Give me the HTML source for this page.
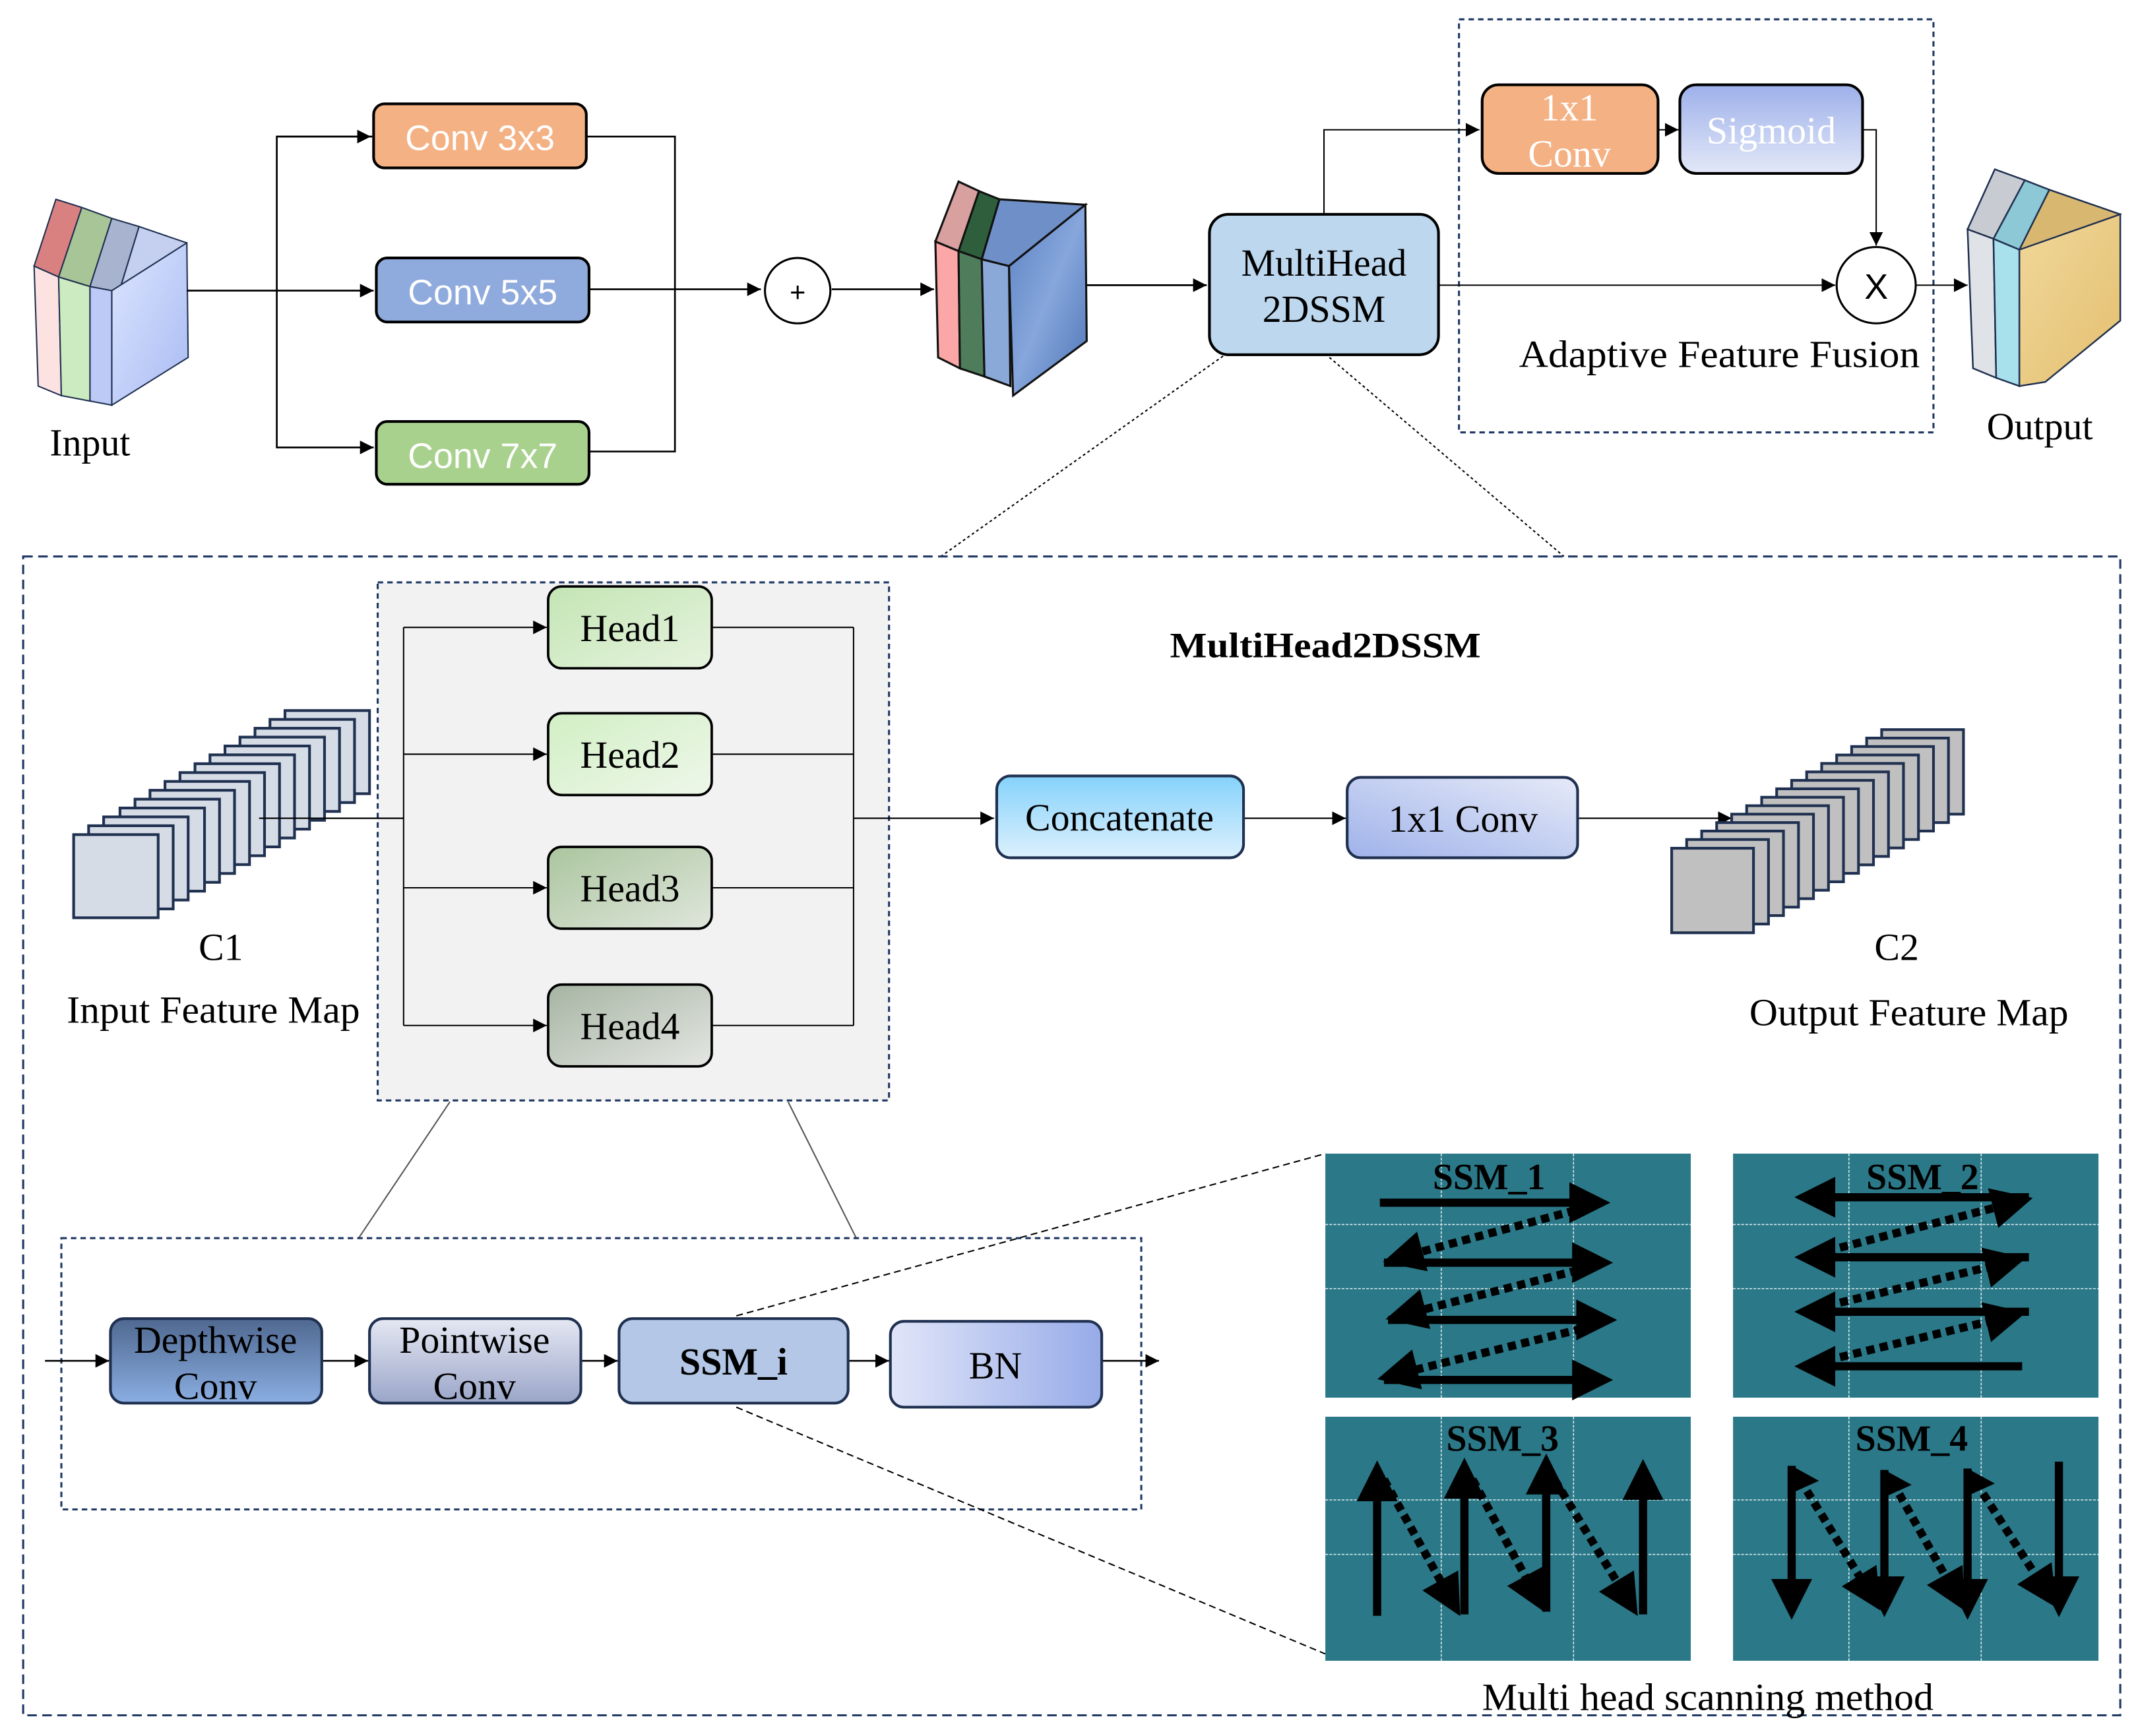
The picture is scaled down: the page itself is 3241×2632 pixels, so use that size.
<!DOCTYPE html>
<html><head><meta charset="utf-8"><style>
html,body{margin:0;padding:0;background:#fff}
svg{display:block}
text{font-family:"Liberation Serif",serif}
.s{font-family:"Liberation Sans",sans-serif}
</style></head><body>
<svg width="3241" height="2632" viewBox="0 0 1568 1273" xmlns="http://www.w3.org/2000/svg">
<defs>
<marker id="a" viewBox="0 0 10 10" refX="10" refY="5" markerWidth="10" markerHeight="10" markerUnits="userSpaceOnUse" orient="auto"><path d="M0,0L10,5L0,10z" fill="#000"/></marker>
<marker id="b" viewBox="0 0 10 10" refX="8" refY="5" markerWidth="5" markerHeight="5" orient="auto"><path d="M0,0L10,5L0,10z" fill="#000"/></marker>
<linearGradient id="gSig" x1="0" y1="0" x2="0" y2="1"><stop offset="0" stop-color="#9db0ea"/><stop offset="1" stop-color="#e3e8f8"/></linearGradient>
<linearGradient id="gCat" x1="0" y1="0" x2="0" y2="1"><stop offset="0" stop-color="#85d2fb"/><stop offset="1" stop-color="#dcf0fd"/></linearGradient>
<linearGradient id="g11" x1="0" y1="1" x2="1" y2="0"><stop offset="0" stop-color="#9fb2ea"/><stop offset="1" stop-color="#e6eaf8"/></linearGradient>
<linearGradient id="gDw" x1="0" y1="0" x2="0" y2="1"><stop offset="0" stop-color="#4f6890"/><stop offset="1" stop-color="#8aaee2"/></linearGradient>
<linearGradient id="gPw" x1="0" y1="0" x2="0" y2="1"><stop offset="0" stop-color="#e5e8f3"/><stop offset="1" stop-color="#9aa5c8"/></linearGradient>
<linearGradient id="gBn" x1="0" y1="0" x2="1" y2="0"><stop offset="0" stop-color="#e0e5f8"/><stop offset="1" stop-color="#97abe8"/></linearGradient>
<linearGradient id="gH1" x1="0" y1="0" x2="1" y2="1"><stop offset="0" stop-color="#c3e5b4"/><stop offset="1" stop-color="#e6f3de"/></linearGradient>
<linearGradient id="gH2" x1="0" y1="0" x2="1" y2="1"><stop offset="0" stop-color="#d2efc4"/><stop offset="1" stop-color="#eef7ea"/></linearGradient>
<linearGradient id="gH3" x1="0" y1="0" x2="1" y2="1"><stop offset="0" stop-color="#abc59e"/><stop offset="1" stop-color="#dfe6dc"/></linearGradient>
<linearGradient id="gH4" x1="0" y1="0" x2="1" y2="1"><stop offset="0" stop-color="#a6b4a2"/><stop offset="1" stop-color="#e4e6e3"/></linearGradient>
<linearGradient id="gBlue" x1="0" y1="0" x2="1" y2="1"><stop offset="0" stop-color="#dde5ff"/><stop offset="1" stop-color="#a8bbf2"/></linearGradient>
<linearGradient id="gTex" x1="0" y1="0" x2="1" y2="1"><stop offset="0" stop-color="#5b82c2"/><stop offset="0.5" stop-color="#86a6dc"/><stop offset="1" stop-color="#4e74b6"/></linearGradient>
<linearGradient id="gGold" x1="0" y1="0" x2="1" y2="1"><stop offset="0" stop-color="#f0d79a"/><stop offset="1" stop-color="#e4c070"/></linearGradient>
</defs>

<!-- INPUT cube -->
<g stroke="#1f3050" stroke-width="1">
<polygon points="41,146 60,152 43,203 25,195" fill="#d98080"/>
<polygon points="60,152 82,160 66,210 43,203" fill="#a7c596"/>
<polygon points="82,160 102,166 87,215 66,210" fill="#a8b3cf"/>
<polygon points="102,166 137,178 137,262 87,215" fill="#c5d0f0"/>
<polygon points="25,195 43,203 45,290 28,283" fill="#fde2e2"/>
<polygon points="43,203 66,210 66,294 45,290" fill="#cdebc0"/>
<polygon points="66,210 82,213 82,297 66,294" fill="#bccaf5"/>
<polygon points="82,213 137,178 138,262 82,297" fill="url(#gBlue)"/>
</g>
<text x="66" y="334" font-size="28" text-anchor="middle">Input</text>

<!-- branches -->
<g stroke="#000" stroke-width="1.3" fill="none">
<line x1="137" y1="213" x2="274" y2="213" marker-end="url(#a)"/>
<polyline points="273,100 203,100 203,328 274,328"/>
<line x1="203" y1="100" x2="272" y2="100" marker-end="url(#a)"/>
<line x1="203" y1="328" x2="274" y2="328" marker-end="url(#a)"/>
<polyline points="430,100 495,100 495,331 432,331"/>
<line x1="432" y1="212" x2="558" y2="212" marker-end="url(#a)"/>
<line x1="610" y1="212" x2="685" y2="212" marker-end="url(#a)"/>
<line x1="797" y1="209" x2="885" y2="209" marker-end="url(#a)"/>
</g>
<rect x="274" y="76" width="156" height="47" rx="8" fill="#f4b183" stroke="#000" stroke-width="2"/>
<text class="s" x="352" y="110" font-size="26" fill="#fff" text-anchor="middle">Conv 3x3</text>
<rect x="276" y="189" width="156" height="47" rx="8" fill="#8faadc" stroke="#000" stroke-width="2"/>
<text class="s" x="354" y="223" font-size="26" fill="#fff" text-anchor="middle">Conv 5x5</text>
<rect x="276" y="309" width="156" height="46" rx="8" fill="#a9d18e" stroke="#000" stroke-width="2"/>
<text class="s" x="354" y="343" font-size="26" fill="#fff" text-anchor="middle">Conv 7x7</text>
<ellipse cx="585" cy="213" rx="24" ry="24" fill="#fff" stroke="#000" stroke-width="1.5"/>
<text class="s" x="585" y="221" font-size="20" text-anchor="middle">+</text>

<!-- feature cube -->
<g stroke="#111" stroke-width="1.5">
<polygon points="686,177 703,133 718,140 703,184" fill="#d9a0a0"/>
<polygon points="703,184 718,140 733,146 720,190" fill="#2e5e3c"/>
<polygon points="720,190 733,146 796,150 740,195" fill="#6f8fc8"/>
<polygon points="686,177 703,184 704,270 688,262" fill="#fba7a7"/>
<polygon points="703,184 720,190 722,276 704,270" fill="#4f7d5c"/>
<polygon points="720,190 740,195 741,283 722,276" fill="#8aa8d8"/>
<polygon points="740,195 796,150 797,250 743,290" fill="url(#gTex)"/>
</g>

<!-- MultiHead -->
<rect x="887" y="157" width="168" height="103" rx="14" fill="#bdd7ee" stroke="#000" stroke-width="2"/>
<text x="971" y="202" font-size="28" text-anchor="middle">MultiHead</text>
<text x="971" y="236" font-size="28" text-anchor="middle">2DSSM</text>
<rect x="1070" y="14" width="348" height="303" fill="none" stroke="#1f3864" stroke-width="1.5" stroke-dasharray="4,3"/>
<g stroke="#000" stroke-width="1" fill="none">
<polyline points="971,157 971,95 1085,95" marker-end="url(#a)"/>
<line x1="1216" y1="95" x2="1231" y2="95" marker-end="url(#a)"/>
<polyline points="1366,95 1376,95 1376,180" marker-end="url(#a)"/>
<line x1="1055" y1="209" x2="1346" y2="209" marker-end="url(#a)"/>
<line x1="1405" y1="209" x2="1443" y2="209" marker-end="url(#a)"/>
</g>
<rect x="1087" y="62" width="129" height="65" rx="12" fill="#f4b183" stroke="#000" stroke-width="2"/>
<text x="1151" y="88" font-size="28" fill="#fff" text-anchor="middle">1x1</text>
<text x="1151" y="122" font-size="28" fill="#fff" text-anchor="middle">Conv</text>
<rect x="1232" y="62" width="134" height="65" rx="12" fill="url(#gSig)" stroke="#000" stroke-width="2"/>
<text x="1299" y="105" font-size="28" fill="#fff" text-anchor="middle">Sigmoid</text>
<ellipse cx="1376" cy="209" rx="29" ry="28" fill="#fff" stroke="#000" stroke-width="1.5"/>
<text class="s" x="1376" y="219" font-size="26" text-anchor="middle">X</text>
<text x="1114" y="269" font-size="28" textLength="294" lengthAdjust="spacingAndGlyphs">Adaptive Feature Fusion</text>

<!-- output cube -->
<g stroke="#1f3050" stroke-width="1.2">
<polygon points="1443,168 1463,124 1485,132 1462,175" fill="#c8ccd2"/>
<polygon points="1462,175 1485,132 1503,139 1481,183" fill="#8cc8d6"/>
<polygon points="1481,183 1503,139 1555,157 1500,198" fill="#d8b870"/>
<polygon points="1443,168 1462,175 1464,277 1447,270" fill="#dfe2e6"/>
<polygon points="1462,175 1481,183 1481,283 1464,277" fill="#a8e0ec"/>
<polygon points="1481,183 1555,157 1555,235 1500,280 1481,283" fill="url(#gGold)"/>
</g>
<text x="1496" y="322" font-size="28" text-anchor="middle">Output</text>

<!-- zoom lines -->
<line x1="897" y1="261" x2="690" y2="408" stroke="#000" stroke-width="1" stroke-dasharray="2,2"/>
<line x1="975" y1="262" x2="1147" y2="408" stroke="#000" stroke-width="1" stroke-dasharray="2,2"/>

<!-- big dashed box -->
<rect x="17" y="408" width="1538" height="850" fill="none" stroke="#1f3864" stroke-width="1.5" stroke-dasharray="7,4"/>
<text x="858" y="482" font-size="26" font-weight="bold" textLength="228" lengthAdjust="spacingAndGlyphs">MultiHead2DSSM</text>

<!-- inner gray box -->
<rect x="277" y="427" width="375" height="380" fill="#f2f2f2" stroke="#1f3864" stroke-width="1.5" stroke-dasharray="4,3"/>
<g stroke="#000" stroke-width="1" fill="none">
<line x1="190" y1="600" x2="296" y2="600"/>
<line x1="296" y1="460" x2="296" y2="752"/>
<line x1="296" y1="460" x2="401" y2="460" marker-end="url(#a)"/>
<line x1="296" y1="553" x2="401" y2="553" marker-end="url(#a)"/>
<line x1="296" y1="651" x2="401" y2="651" marker-end="url(#a)"/>
<line x1="296" y1="752" x2="401" y2="752" marker-end="url(#a)"/>
<line x1="626" y1="460" x2="626" y2="752"/>
<line x1="522" y1="460" x2="626" y2="460"/>
<line x1="522" y1="553" x2="626" y2="553"/>
<line x1="522" y1="651" x2="626" y2="651"/>
<line x1="522" y1="752" x2="626" y2="752"/>
<line x1="626" y1="600" x2="729" y2="600" marker-end="url(#a)"/>
<line x1="912" y1="600" x2="987" y2="600" marker-end="url(#a)"/>
<line x1="1157" y1="600" x2="1270" y2="600" marker-end="url(#a)"/>
</g>
<rect x="402" y="430" width="120" height="60" rx="10" fill="url(#gH1)" stroke="#000" stroke-width="1.8"/>
<text x="462" y="470" font-size="28" text-anchor="middle">Head1</text>
<rect x="402" y="523" width="120" height="60" rx="10" fill="url(#gH2)" stroke="#000" stroke-width="1.8"/>
<text x="462" y="563" font-size="28" text-anchor="middle">Head2</text>
<rect x="402" y="621" width="120" height="60" rx="10" fill="url(#gH3)" stroke="#000" stroke-width="1.8"/>
<text x="462" y="661" font-size="28" text-anchor="middle">Head3</text>
<rect x="402" y="722" width="120" height="60" rx="10" fill="url(#gH4)" stroke="#000" stroke-width="1.8"/>
<text x="462" y="762" font-size="28" text-anchor="middle">Head4</text>

<!-- C1 stack -->
<g fill="#d6dce6" stroke="#1f3050" stroke-width="2">
<rect x="209" y="521" width="62" height="61"/><rect x="198" y="527.5" width="62" height="61"/><rect x="187" y="534" width="62" height="61"/><rect x="176" y="540.5" width="62" height="61"/><rect x="165" y="547" width="62" height="61"/><rect x="154" y="553.5" width="62" height="61"/><rect x="143" y="560" width="62" height="61"/><rect x="132" y="566.5" width="62" height="61"/><rect x="121" y="573" width="62" height="61"/><rect x="110" y="579.5" width="62" height="61"/><rect x="99" y="586" width="62" height="61"/><rect x="88" y="592.5" width="62" height="61"/><rect x="76" y="599" width="62" height="61"/><rect x="65" y="605.5" width="62" height="61"/><rect x="54" y="612" width="62" height="61"/>
</g>
<line x1="190" y1="600" x2="296" y2="600" stroke="#000" stroke-width="1"/>
<text x="162" y="704" font-size="28" text-anchor="middle">C1</text>
<text x="49" y="750" font-size="28" textLength="215" lengthAdjust="spacingAndGlyphs">Input Feature Map</text>

<rect x="731" y="569" width="181" height="60" rx="10" fill="url(#gCat)" stroke="#1f3050" stroke-width="2"/>
<text x="821" y="609" font-size="28" text-anchor="middle">Concatenate</text>
<rect x="988" y="570" width="169" height="59" rx="10" fill="url(#g11)" stroke="#1f3050" stroke-width="2"/>
<text x="1073" y="610" font-size="28" text-anchor="middle">1x1 Conv</text>

<!-- C2 stack -->
<g fill="#c0c0c0" stroke="#1f3050" stroke-width="2">
<rect x="1380" y="535" width="60" height="62"/><rect x="1369" y="541.2" width="60" height="62"/><rect x="1358" y="547.4" width="60" height="62"/><rect x="1347" y="553.6" width="60" height="62"/><rect x="1336" y="559.8" width="60" height="62"/><rect x="1325" y="566" width="60" height="62"/><rect x="1314" y="572.2" width="60" height="62"/><rect x="1303" y="578.4" width="60" height="62"/><rect x="1292" y="584.6" width="60" height="62"/><rect x="1281" y="590.8" width="60" height="62"/><rect x="1270" y="597" width="60" height="62"/><rect x="1259" y="603.2" width="60" height="62"/><rect x="1248" y="609.4" width="60" height="62"/><rect x="1237" y="615.6" width="60" height="62"/><rect x="1226" y="622" width="60" height="62"/>
</g>
<text x="1391" y="704" font-size="28" text-anchor="middle">C2</text>
<text x="1283" y="752" font-size="28" textLength="234" lengthAdjust="spacingAndGlyphs">Output Feature Map</text>

<!-- lines from gray box -->
<line x1="330" y1="808" x2="263" y2="908" stroke="#555" stroke-width="1"/>
<line x1="578" y1="808" x2="628" y2="908" stroke="#555" stroke-width="1"/>

<!-- bottom box -->
<rect x="45" y="908" width="792" height="199" fill="none" stroke="#1f3864" stroke-width="1.5" stroke-dasharray="4,3"/>
<g stroke="#000" stroke-width="1.3">
<line x1="33" y1="998" x2="80" y2="998" marker-end="url(#a)"/>
<line x1="236" y1="998" x2="270" y2="998" marker-end="url(#a)"/>
<line x1="426" y1="998" x2="453" y2="998" marker-end="url(#a)"/>
<line x1="622" y1="998" x2="652" y2="998" marker-end="url(#a)"/>
<line x1="808" y1="998" x2="850" y2="998" marker-end="url(#a)"/>
</g>
<rect x="81" y="967" width="155" height="62" rx="10" fill="url(#gDw)" stroke="#1f3050" stroke-width="2"/>
<text x="158" y="992" font-size="28" text-anchor="middle">Depthwise</text>
<text x="158" y="1026" font-size="28" text-anchor="middle">Conv</text>
<rect x="271" y="967" width="155" height="62" rx="10" fill="url(#gPw)" stroke="#1f3050" stroke-width="2"/>
<text x="348" y="992" font-size="28" text-anchor="middle">Pointwise</text>
<text x="348" y="1026" font-size="28" text-anchor="middle">Conv</text>
<rect x="454" y="967" width="168" height="62" rx="10" fill="#b4c7e7" stroke="#1f3050" stroke-width="2"/>
<text x="538" y="1008" font-size="28" font-weight="bold" text-anchor="middle">SSM_i</text>
<rect x="653" y="969" width="155" height="63" rx="10" fill="url(#gBn)" stroke="#1f3050" stroke-width="2"/>
<text x="730" y="1011" font-size="28" text-anchor="middle">BN</text>

<line x1="540" y1="965" x2="972" y2="846" stroke="#000" stroke-width="1" stroke-dasharray="5,3"/>
<line x1="540" y1="1032" x2="972" y2="1213" stroke="#000" stroke-width="1" stroke-dasharray="5,3"/>

<!-- SSM panels -->
<g fill="#2a7888">
<rect x="972" y="846" width="268" height="179"/>
<rect x="1271" y="846" width="268" height="179"/>
<rect x="972" y="1039" width="268" height="179"/>
<rect x="1271" y="1039" width="268" height="179"/>
</g>
<g stroke="#fff" stroke-width="0.8" stroke-dasharray="2,1" opacity="0.8">
<line x1="1057" y1="846" x2="1057" y2="1025"/><line x1="1154" y1="846" x2="1154" y2="1025"/><line x1="972" y1="898" x2="1240" y2="898"/><line x1="972" y1="945" x2="1240" y2="945"/>
<line x1="1356" y1="846" x2="1356" y2="1025"/><line x1="1453" y1="846" x2="1453" y2="1025"/><line x1="1271" y1="898" x2="1539" y2="898"/><line x1="1271" y1="945" x2="1539" y2="945"/>
<line x1="1057" y1="1039" x2="1057" y2="1218"/><line x1="1154" y1="1039" x2="1154" y2="1218"/><line x1="972" y1="1100" x2="1240" y2="1100"/><line x1="972" y1="1140" x2="1240" y2="1140"/>
<line x1="1356" y1="1039" x2="1356" y2="1218"/><line x1="1453" y1="1039" x2="1453" y2="1218"/><line x1="1271" y1="1100" x2="1539" y2="1100"/><line x1="1271" y1="1140" x2="1539" y2="1140"/>
</g>
<g font-size="27" font-weight="bold" text-anchor="middle">
<text x="1092" y="872">SSM_1</text><text x="1410" y="872">SSM_2</text>
<text x="1102" y="1064">SSM_3</text><text x="1402" y="1064">SSM_4</text>
</g>
<g stroke="#000" stroke-width="6" fill="none">
<!-- SSM1 -->
<line x1="1012" y1="882" x2="1175" y2="882" marker-end="url(#b)"/>
<line x1="1015" y1="926" x2="1177" y2="926" marker-end="url(#b)"/>
<line x1="1018" y1="968" x2="1180" y2="968" marker-end="url(#b)"/>
<line x1="1015" y1="1012" x2="1177" y2="1012" marker-end="url(#b)"/>
<line x1="1165" y1="885" x2="1020" y2="924" stroke-dasharray="6,4" marker-end="url(#b)"/>
<line x1="1167" y1="929" x2="1022" y2="966" stroke-dasharray="6,4" marker-end="url(#b)"/>
<line x1="1170" y1="972" x2="1016" y2="1010" stroke-dasharray="6,4" marker-end="url(#b)"/>
<!-- SSM2 -->
<line x1="1488" y1="878" x2="1322" y2="878" marker-end="url(#b)"/>
<line x1="1488" y1="922" x2="1322" y2="922" marker-end="url(#b)"/>
<line x1="1488" y1="962" x2="1322" y2="962" marker-end="url(#b)"/>
<line x1="1483" y1="1002" x2="1322" y2="1002" marker-end="url(#b)"/>
<line x1="1330" y1="920" x2="1485" y2="880" stroke-dasharray="6,4" marker-end="url(#b)"/>
<line x1="1330" y1="960" x2="1480" y2="924" stroke-dasharray="6,4" marker-end="url(#b)"/>
<line x1="1330" y1="1000" x2="1480" y2="964" stroke-dasharray="6,4" marker-end="url(#b)"/>
<!-- SSM3 -->
<line x1="1010" y1="1185" x2="1010" y2="1077" marker-end="url(#b)"/>
<line x1="1074" y1="1184" x2="1074" y2="1075" marker-end="url(#b)"/>
<line x1="1134" y1="1182" x2="1134" y2="1072" marker-end="url(#b)"/>
<line x1="1205" y1="1184" x2="1205" y2="1076" marker-end="url(#b)"/>
<line x1="1015" y1="1085" x2="1068" y2="1180" stroke-dasharray="6,4" marker-end="url(#b)"/>
<line x1="1080" y1="1085" x2="1130" y2="1177" stroke-dasharray="6,4" marker-end="url(#b)"/>
<line x1="1140" y1="1085" x2="1198" y2="1180" stroke-dasharray="6,4" marker-end="url(#b)"/>
<!-- SSM4 -->
<line x1="1314" y1="1075" x2="1314" y2="1182" marker-end="url(#b)"/>
<line x1="1382" y1="1078" x2="1382" y2="1180" marker-end="url(#b)"/>
<line x1="1443" y1="1077" x2="1443" y2="1182" marker-end="url(#b)"/>
<line x1="1510" y1="1072" x2="1510" y2="1180" marker-end="url(#b)"/>
<line x1="1320" y1="1085" x2="1376" y2="1176" stroke-dasharray="6,4" marker-end="url(#b)"/>
<line x1="1388" y1="1087" x2="1438" y2="1176" stroke-dasharray="6,4" marker-end="url(#b)"/>
<line x1="1449" y1="1087" x2="1505" y2="1174" stroke-dasharray="6,4" marker-end="url(#b)"/>
</g>
<g fill="#000">
<polygon points="1314,1075 1334,1086 1314,1095"/><polygon points="1382,1078 1402,1089 1382,1098"/><polygon points="1443,1077 1463,1088 1443,1097"/>
</g>
<text x="1087" y="1254" font-size="28" textLength="331" lengthAdjust="spacingAndGlyphs">Multi head scanning method</text>
</svg>
</body></html>
